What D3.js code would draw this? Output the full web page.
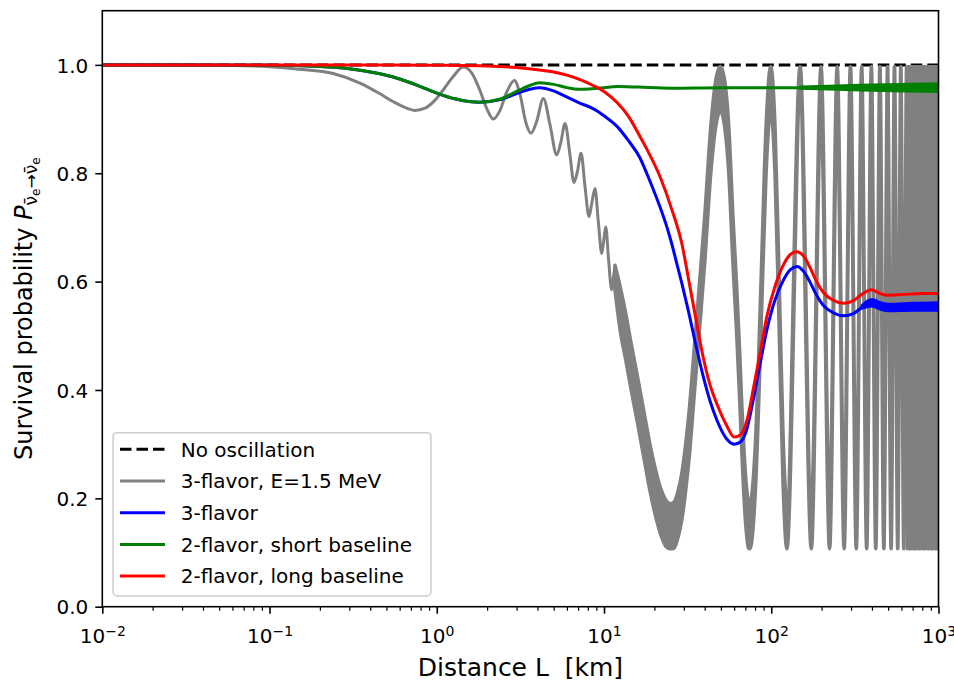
<!DOCTYPE html>
<html>
<head>
<meta charset="utf-8">
<script src="https://cdn.jsdelivr.net/npm/d3@7"></script>
<style>
  body { margin: 0; background: #fff; }
  text { font-family: "DejaVu Sans", sans-serif; fill: #000; }
</style>
</head>
<body>
<div id="chart"></div>
<script>
// ---- data: [L km, P] ----
const noOscillation = [[0.01, 1.0], [1000, 1.0]];

// 3-flavor at E=1.5 MeV, resolved part (L < 12 km)
const grayNear = [
  [0.01, 1.0], [0.03, 0.9998], [0.06, 0.999], [0.1, 0.9965], [0.15, 0.992], [0.24, 0.984],
  [0.35, 0.966], [0.45, 0.948], [0.55, 0.932], [0.65, 0.921], [0.74, 0.916], [0.85, 0.92],
  [0.97, 0.934], [1.1, 0.955], [1.25, 0.978], [1.44, 0.996], [1.62, 0.985], [1.8, 0.955],
  [2.0, 0.918], [2.18, 0.900], [2.38, 0.915], [2.62, 0.950], [2.91, 0.971], [3.15, 0.945],
  [3.4, 0.895], [3.66, 0.874], [3.95, 0.895], [4.34, 0.938], [4.75, 0.89], [5.21, 0.834],
  [5.5, 0.855], [5.85, 0.892], [6.25, 0.835], [6.61, 0.783], [6.95, 0.805], [7.29, 0.837],
  [7.7, 0.775], [8.13, 0.720], [8.45, 0.745], [8.83, 0.772], [9.25, 0.71], [9.69, 0.652],
  [9.95, 0.675], [10.24, 0.701], [10.65, 0.64], [11.11, 0.585], [11.35, 0.605], [11.63, 0.628]
];

// 3-flavor at E=1.5 MeV, fast part drawn as a band: [L, upper, lower]
const grayFirstCycles = [
  [11.63, 0.630, 0.585], [12.5, 0.590, 0.510], [13.5, 0.540, 0.455], [14.5, 0.487, 0.402],
  [16, 0.418, 0.333], [17.5, 0.352, 0.267], [19, 0.293, 0.208], [20.5, 0.248, 0.163],
  [22, 0.215, 0.130], [23.5, 0.196, 0.111], [24.8, 0.190, 0.107], [26.2, 0.193, 0.108],
  [27.7, 0.213, 0.128], [29.2, 0.246, 0.161], [31, 0.308, 0.223], [32.5, 0.37, 0.285],
  [34.5, 0.47, 0.385], [37.2, 0.595, 0.51], [40, 0.72, 0.635], [43.4, 0.882, 0.797],
  [46.5, 0.97, 0.885], [49.6, 0.997, 0.915], [52.7, 0.97, 0.885], [55.8, 0.882, 0.797],
  [59, 0.72, 0.635], [62, 0.595, 0.51], [64.7, 0.47, 0.385], [66.7, 0.37, 0.285],
  [68.2, 0.308, 0.223], [70, 0.246, 0.161], [71.5, 0.213, 0.128], [73, 0.193, 0.108],
  [74.4, 0.190, 0.107], [80.6, 0.308, 0.223], [86.8, 0.595, 0.51], [93, 0.882, 0.797],
  [99.2, 0.997, 0.915], [105.4, 0.882, 0.797], [111.6, 0.595, 0.51], [117.8, 0.308, 0.223],
  [124, 0.190, 0.107], [1000, 0.81, 0.725]
];
const grayPeaksL = [148.8, 198.4, 248, 297.6, 347.2, 396.8, 446.4, 496, 545.6, 595.2,
  644.8, 694.4, 744, 793.6, 843.2, 892.8, 942.4, 992];
const grayTroughsL = [173.6, 223.2, 272.8, 322.4, 372, 421.6, 471.2, 520.8, 570.4, 620,
  669.6, 719.2, 768.8, 818.4, 868, 917.6, 967.2];
const grayPeakBand = [0.997, 0.915];
const grayTroughBand = [0.190, 0.107];
// beyond ~650 km the curve fills the whole range
const grayDense = [[650, 0.997, 0.107], [1000, 0.997, 0.107]];

const threeFlavor = [
  [0.01, 1.0], [0.1, 0.9993], [0.2, 0.997], [0.3, 0.993], [0.45, 0.984], [0.6, 0.974],
  [0.8, 0.96], [1.0, 0.948], [1.3, 0.937], [1.8, 0.931], [2.4, 0.936], [3.0, 0.947],
  [3.6, 0.955], [4.1, 0.958], [5, 0.952], [5.6, 0.945], [7, 0.931], [9.1, 0.915],
  [10, 0.906], [12, 0.886], [14, 0.86], [16.3, 0.83], [18, 0.80], [20, 0.765],
  [21.6, 0.738], [23.8, 0.70], [25.5, 0.668], [27.1, 0.636], [29.3, 0.595], [32, 0.545],
  [35, 0.49], [39.2, 0.425], [43, 0.38], [47.2, 0.345], [54, 0.31], [60, 0.30],
  [66, 0.305], [71, 0.325], [79, 0.39], [86, 0.45], [94, 0.51], [105, 0.565],
  [117, 0.60], [130, 0.622], [143, 0.628], [155, 0.62], [170, 0.60], [183, 0.58],
  [205, 0.556], [233, 0.543], [270, 0.537], [310, 0.541], [350, 0.553], [397, 0.561],
  [440, 0.556], [487, 0.551], [600, 0.553], [800, 0.554], [1000, 0.554]
];
const threeFlavorBand = [
  [350, 0.551, 0.556], [400, 0.555, 0.567], [450, 0.549, 0.561], [500, 0.546, 0.558],
  [700, 0.547, 0.560], [1000, 0.547, 0.561]
];

const twoFlavorShort = [
  [0.01, 1.0], [0.1, 0.9993], [0.2, 0.997], [0.3, 0.993], [0.45, 0.984], [0.6, 0.974],
  [0.8, 0.96], [1.0, 0.948], [1.3, 0.937], [1.8, 0.931], [2.4, 0.937], [3.0, 0.951],
  [3.6, 0.962], [4.1, 0.967], [5, 0.964], [6, 0.958], [7, 0.955], [8.5, 0.956],
  [10, 0.958], [12, 0.960], [16, 0.959], [25, 0.957], [50, 0.958], [100, 0.958], [1000, 0.958]
];
const twoFlavorShortBand = [
  [150, 0.957, 0.959], [250, 0.955, 0.961], [400, 0.953, 0.963], [600, 0.952, 0.964],
  [1000, 0.951, 0.965]
];

const twoFlavorLong = [
  [0.01, 1.0], [0.5, 1.0], [1, 0.9995], [2, 0.998], [3, 0.995], [4, 0.991], [5, 0.987],
  [6, 0.981], [7, 0.974], [8.6, 0.962], [10, 0.951], [12, 0.93], [14, 0.905], [16, 0.874],
  [18, 0.845], [21.6, 0.794], [25.5, 0.732], [29.3, 0.668], [32, 0.605], [35, 0.54],
  [39.2, 0.46], [43, 0.41], [47.2, 0.375], [54, 0.335], [60, 0.313], [66, 0.318],
  [71, 0.34], [79, 0.41], [86, 0.47], [94, 0.535], [105, 0.59], [117, 0.628], [130, 0.65],
  [142, 0.655], [155, 0.648], [170, 0.627], [183, 0.605], [205, 0.58], [233, 0.566],
  [270, 0.56], [310, 0.565], [350, 0.577], [397, 0.585], [440, 0.579], [487, 0.575],
  [600, 0.576], [800, 0.578], [1000, 0.578]
];

const xTickExps = [-2, -1, 0, 1, 2, 3];
const yTicks = [0.0, 0.2, 0.4, 0.6, 0.8, 1.0];
const legendLabels = ["No oscillation", "3-flavor, E=1.5 MeV", "3-flavor",
  "2-flavor, short baseline", "2-flavor, long baseline"];
const legendColors = ["#000", "gray", "blue", "green", "red"];

// ---- layout ----
const W = 954, H = 681;
const margin = { top: 10.7, right: 15.5, bottom: 74.3, left: 102.3 };
const width = W - margin.left - margin.right;
const height = H - margin.top - margin.bottom;

const root = d3.select("#chart").append("svg")
  .attr("width", W)
  .attr("height", H);
const svg = root.append("g")
  .attr("transform", `translate(${margin.left},${margin.top})`);

const x = d3.scaleLog().domain([1e-2, 1e3]).range([0, width]);
const y = d3.scaleLinear().domain([0, 1.1]).range([height, 0]);

svg.append("clipPath").attr("id", "plot-clip")
  .append("rect").attr("width", width).attr("height", height);
const plot = svg.append("g").attr("clip-path", "url(#plot-clip)");

const line = d3.line()
  .x(d => x(d[0]))
  .y(d => y(d[1]))
  .curve(d3.curveMonotoneX);
const band = d3.area()
  .x(d => x(d[0]))
  .y0(d => y(d[2]))
  .y1(d => y(d[1]))
  .curve(d3.curveMonotoneX);

// no oscillation
plot.append("path")
  .datum(noOscillation)
  .attr("fill", "none")
  .attr("stroke", "#000")
  .attr("stroke-width", 3)
  .attr("stroke-dasharray", "11.5,5")
  .attr("d", d3.line().x(d => x(d[0])).y(d => y(d[1])));

// 3-flavor at fixed energy
const grayBand = grayFirstCycles
  .concat(grayPeaksL.map(L => [L, grayPeakBand[0], grayPeakBand[1]]))
  .concat(grayTroughsL.map(L => [L, grayTroughBand[0], grayTroughBand[1]]))
  .sort((a, b) => a[0] - b[0]);

plot.append("path")
  .datum(grayNear)
  .attr("fill", "none")
  .attr("stroke", "gray")
  .attr("stroke-width", 3)
  .attr("d", line);
plot.append("path")
  .datum(grayBand)
  .attr("fill", "gray")
  .attr("stroke", "gray")
  .attr("stroke-width", 3.6)
  .attr("stroke-linejoin", "round")
  .attr("d", band);
plot.append("path")
  .datum(grayDense)
  .attr("fill", "gray")
  .attr("stroke", "gray")
  .attr("stroke-width", 3)
  .attr("d", d3.area().x(d => x(d[0])).y0(d => y(d[2])).y1(d => y(d[1])));

// 3-flavor
plot.append("path")
  .datum(threeFlavor)
  .attr("fill", "none")
  .attr("stroke", "blue")
  .attr("stroke-width", 3)
  .attr("d", line);
plot.append("path")
  .datum(threeFlavorBand)
  .attr("fill", "blue")
  .attr("stroke", "blue")
  .attr("stroke-width", 3)
  .attr("d", band);

// 2-flavor short baseline
plot.append("path")
  .datum(twoFlavorShort)
  .attr("fill", "none")
  .attr("stroke", "green")
  .attr("stroke-width", 3)
  .attr("d", line);
plot.append("path")
  .datum(twoFlavorShortBand)
  .attr("fill", "green")
  .attr("stroke", "green")
  .attr("stroke-width", 3)
  .attr("d", band);

// 2-flavor long baseline
plot.append("path")
  .datum(twoFlavorLong)
  .attr("fill", "none")
  .attr("stroke", "red")
  .attr("stroke-width", 3)
  .attr("d", line);

// frame
svg.append("rect")
  .attr("width", width)
  .attr("height", height)
  .attr("fill", "none")
  .attr("stroke", "#000")
  .attr("stroke-width", 1.6);

// x axis, major ticks
const xMajor = xTickExps.map(e => Math.pow(10, e));
const xAxis = svg.append("g")
  .attr("transform", `translate(0,${height})`)
  .call(d3.axisBottom(x).tickValues(xMajor).tickSize(7).tickSizeOuter(0).tickFormat(""));
xAxis.select(".domain").remove();
xAxis.selectAll(".tick line").attr("stroke", "#000").attr("stroke-width", 1.6);
xAxis.selectAll(".tick text").each(function (d, i) {
  const t = d3.select(this)
    .attr("y", 36.6)
    .attr("dy", null)
    .style("font-size", "20px");
  t.append("tspan").text("10");
  const e = xTickExps[i];
  t.append("tspan")
    .attr("dy", -7.5)
    .style("font-size", "14px")
    .text(e < 0 ? "\u2212" + (-e) : String(e));
});

// x axis, minor ticks
const xMinor = x.ticks().filter(v => !xMajor.some(m => Math.abs(m - v) / m < 1e-9));
const xAxisMinor = svg.append("g")
  .attr("transform", `translate(0,${height})`)
  .call(d3.axisBottom(x).tickValues(xMinor).tickSize(4).tickSizeOuter(0).tickFormat(""));
xAxisMinor.select(".domain").remove();
xAxisMinor.selectAll(".tick line").attr("stroke", "#000").attr("stroke-width", 1.2);

// y axis
const yAxis = svg.append("g")
  .call(d3.axisLeft(y).tickValues(yTicks).tickSize(7).tickPadding(7)
    .tickSizeOuter(0).tickFormat(d3.format(".1f")));
yAxis.select(".domain").remove();
yAxis.selectAll(".tick line").attr("stroke", "#000").attr("stroke-width", 1.6);
yAxis.selectAll(".tick text").style("font-size", "20px").attr("dy", "0.36em");

// axis labels
root.append("text")
  .attr("x", margin.left + width / 2)
  .attr("y", 676)
  .attr("text-anchor", "middle")
  .style("font-size", "25px")
  .style("white-space", "pre")
  .text("Distance L  [km]");

const yLabel = root.append("text")
  .attr("transform", `translate(32,${margin.top + height / 2}) rotate(-90)`)
  .attr("text-anchor", "middle")
  .style("font-size", "24px");
yLabel.append("tspan").text("Survival probability ");
yLabel.append("tspan").style("font-style", "italic").text("P");
yLabel.append("tspan").attr("dy", 5).style("font-size", "17px").text("\u03BD\u0304");
yLabel.append("tspan").attr("dy", 3).style("font-size", "12px").text("e");
yLabel.append("tspan").attr("dy", -3).style("font-size", "17px").text("\u2192\u03BD\u0304");
yLabel.append("tspan").attr("dy", 3).style("font-size", "12px").text("e");

// legend
const legend = root.append("g");
legend.append("rect")
  .attr("x", 113)
  .attr("y", 432.7)
  .attr("width", 318)
  .attr("height", 163.3)
  .attr("rx", 4)
  .attr("fill", "#fff")
  .attr("fill-opacity", 0.8)
  .attr("stroke", "#cccccc")
  .attr("stroke-width", 1.5);

legendLabels.forEach((label, i) => {
  const cy = 449.3 + i * 31.7;
  legend.append("line")
    .attr("x1", 120).attr("x2", 165)
    .attr("y1", cy).attr("y2", cy)
    .attr("stroke", legendColors[i])
    .attr("stroke-width", 3)
    .attr("stroke-dasharray", i === 0 ? "11.5,5" : null);
  legend.append("text")
    .attr("x", 180.7)
    .attr("y", cy + 7.3)
    .style("font-size", "20px")
    .text(label);
});
</script>
</body>
</html>
